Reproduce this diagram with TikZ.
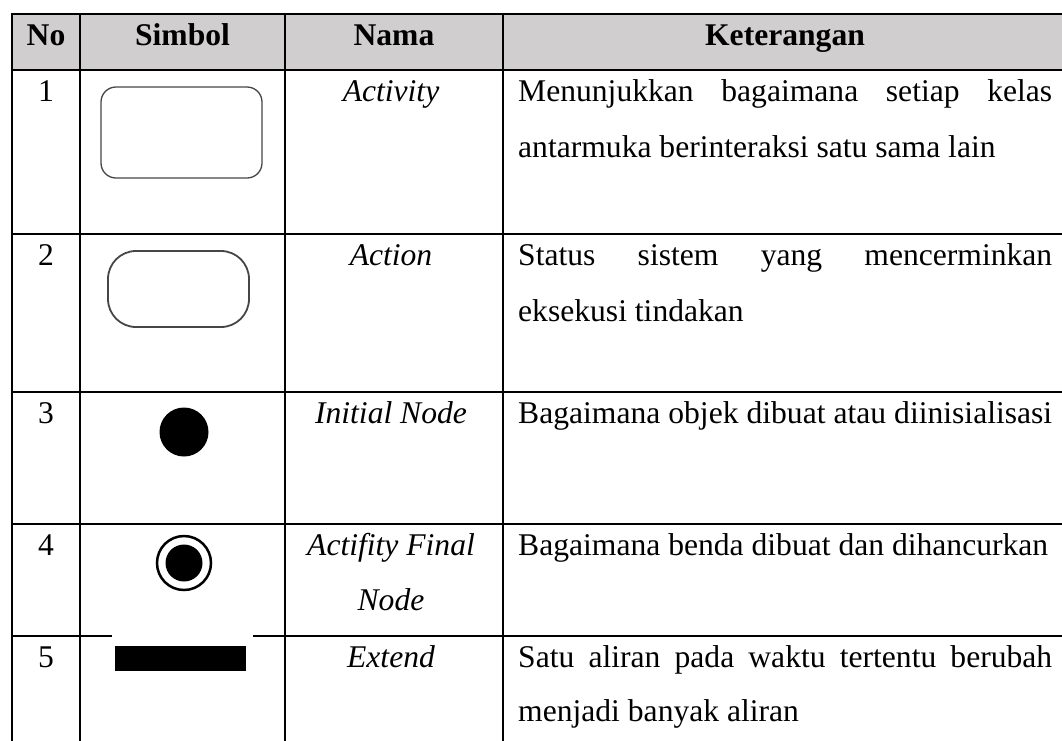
\documentclass[tikz,border=0pt]{standalone}
\usepackage{fontspec}
\setmainfont{Liberation Serif}
\definecolor{headgray}{RGB}{208,206,206}
\definecolor{symline}{RGB}{70,70,70}
\begin{document}
\begin{tikzpicture}[x=1pt,y=-1pt,
  grid/.style={line width=2.6pt, line cap=rect},
  body/.style={inner sep=0pt, anchor=base, font=\fontsize{31.6}{38}\selectfont},
  head/.style={body, font=\fontsize{31.6}{38}\selectfont\bfseries},
  nama/.style={body, font=\fontsize{31.6}{38}\selectfont\itshape},
  desc/.style={body, anchor=base west},
  roundbox/.style={draw=symline, fill=white, inner sep=0pt}
]
\useasboundingbox (0,0) rectangle (1062,740);
\clip (0,0) rectangle (1062,740);

% header band
\fill[headgray] (12,14) rectangle (1067,70);

% table rules
\foreach \y in {14,70,234,392,524,636}
  \draw[grid] (12,\y) -- (1067,\y);
\foreach \x in {12,80,285,503,1067}
  \draw[grid] (\x,14) -- (\x,760);

% header texts
\node[head] (hno)  at (46,45)    {No};
\node[head] (hsym) at (182.5,45) {Simbol};
\node[head] (hnm)  at (394,45)   {Nama};
\node[head] (hket) at (785,45)   {Keterangan};

% row numbers
\node[body] (n1) at (46,101) {1};
\node[body] (n2) at (46,265) {2};
\node[body] (n3) at (46,423) {3};
\node[body] (n4) at (46,555) {4};
\node[body] (n5) at (46,667) {5};

% names
\node[nama] (a1)  at (391,101) {Activity};
\node[nama] (a2)  at (391,265) {Action};
\node[nama] (a3)  at (391,423) {Initial Node};
\node[nama] (a4)  at (391,555) {Actifity Final};
\node[nama] (a4b) at (391,610) {Node};
\node[nama] (a5)  at (391,667) {Extend};

% descriptions
\node[desc] (k1)  at (518,101) {\makebox[534pt][s]{Menunjukkan bagaimana setiap kelas}};
\node[desc] (k1b) at (518,157) {antarmuka berinteraksi satu sama lain};
\node[desc] (k2)  at (518,265) {\makebox[534pt][s]{Status sistem yang mencerminkan}};
\node[desc] (k2b) at (518,321) {eksekusi tindakan};
\node[desc] (k3)  at (518,423) {\makebox[534pt][s]{Bagaimana objek dibuat atau diinisialisasi}};
\node[desc] (k4)  at (518,555) {Bagaimana benda dibuat dan dihancurkan};
\node[desc] (k5)  at (518,667) {\makebox[534pt][s]{Satu aliran pada waktu tertentu berubah}};
\node[desc] (k5b) at (518,721) {menjadi banyak aliran};

% symbol: activity
\node[roundbox, line width=1.3pt, rounded corners=15pt,
      minimum width=161pt, minimum height=91pt] (activity) at (181.5,132.5) {};
% symbol: action
\node[roundbox, line width=1.8pt, rounded corners=28pt,
      minimum width=141pt, minimum height=76pt] (action) at (178.5,289) {};
% symbol: initial node
\node[circle, fill=black, inner sep=0pt, minimum size=49pt] (initial) at (184,432) {};
% symbol: activity final node
\node[circle, draw=black, line width=2.5pt, inner sep=0pt, minimum size=54pt] (final) at (184,563) {};
\node[circle, fill=black, inner sep=0pt, minimum size=37pt] (finaldot) at (final.center) {};
% symbol: bar with its white backing
\fill[white] (112,634) rectangle (253,682);
\node[fill=black, inner sep=0pt, minimum width=131pt, minimum height=25pt] (bar) at (180.5,658.5) {};
\end{tikzpicture}
\end{document}
